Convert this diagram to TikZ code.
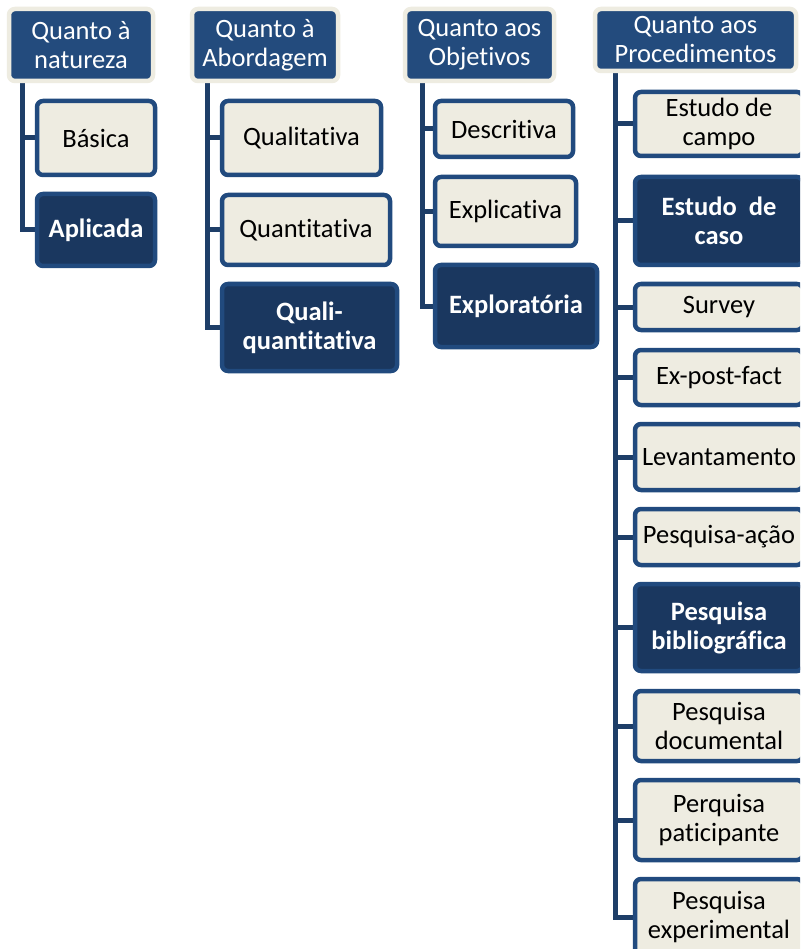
\documentclass[tikz,border=0pt]{standalone}
\usepackage{fontspec}
\setmainfont{Carlito}[Ligatures=CommonOff]
\usetikzlibrary{backgrounds}
\definecolor{hdrfill}{RGB}{35,75,125}
\definecolor{cream}{RGB}{238,236,225}
\definecolor{edge}{RGB}{33,74,126}
\definecolor{darkfill}{RGB}{26,55,95}
\definecolor{linkcol}{RGB}{30,62,104}
\tikzset{
  x=1pt, y=-1pt,
  base/.style={rectangle, rounded corners=6pt, align=center, inner sep=0pt,
    font=\fontsize{26.5}{29}\selectfont},
  header/.style={base, draw=cream, line width=4.5pt, fill=hdrfill, text=white},
  lightbox/.style={base, draw=edge, line width=4.5pt, fill=cream, text=black},
  darkbox/.style={base, draw=edge, line width=4.5pt, fill=darkfill, text=white,
    font=\fontsize{26.5}{29}\selectfont\bfseries},
  conn/.style={draw=linkcol, line width=5pt},
}
\begin{document}
\begin{tikzpicture}
\clip (0,0) rectangle (800,949);

% column 1: natureza
\node[header, minimum width=144pt, minimum height=72pt] (h1) at (81,45) {Quanto à\\natureza};
\node[lightbox, minimum width=118pt, minimum height=74pt] (b11) at (96,138) {Básica};
\node[darkbox, minimum width=118pt, minimum height=72pt] (b12) at (96,230) {Aplicada};

% column 2: abordagem
\node[header, minimum width=146pt, minimum height=72pt] (h2) at (265,45) {Quanto à\\Abordagem};
\node[lightbox, minimum width=159pt, minimum height=74pt] (b21) at (301.5,138) {Qualitativa};
\node[lightbox, minimum width=168pt, minimum height=70pt] (b22) at (306,230) {Quantitativa};
\node[darkbox, minimum width=175pt, minimum height=87pt] (b23) at (309.5,327.5) {Quali-\\quantitativa};

% column 3: objetivos
\node[header, minimum width=149pt, minimum height=72pt] (h3) at (479.5,45) {Quanto aos\\Objetivos};
\node[lightbox, minimum width=138pt, minimum height=56pt] (b31) at (504,129) {Descritiva};
\node[lightbox, minimum width=141pt, minimum height=69pt] (b32) at (505.5,211.5) {Explicativa};
\node[darkbox, minimum width=162pt, minimum height=82pt] (b33) at (516,306) {Exploratória};

% column 4: procedimentos
\node[header, minimum width=201pt, minimum height=62pt] (h4) at (695.5,40) {Quanto aos\\Procedimentos};
\node[lightbox, minimum width=168pt, minimum height=64pt] (b41) at (719,124) {Estudo de\\campo};
\node[darkbox, minimum width=168pt, minimum height=88pt] (b42) at (719,221) {Estudo\ \ de\\caso};
\node[lightbox, minimum width=168pt, minimum height=46pt] (b43) at (719,307) {Survey};
\node[lightbox, minimum width=168pt, minimum height=55pt] (b44) at (719,377.5) {Ex-post-fact};
\node[lightbox, minimum width=168pt, minimum height=66pt] (b45) at (719,457) {Levantamento};
\node[lightbox, minimum width=168pt, minimum height=56pt] (b46) at (719,537) {Pesquisa-ação};
\node[darkbox, minimum width=168pt, minimum height=87pt] (b47) at (719,627.5) {Pesquisa\\bibliográfica};
\node[lightbox, minimum width=168pt, minimum height=70pt] (b48) at (719,726) {Pesquisa\\documental};
\node[lightbox, minimum width=168pt, minimum height=80pt] (b49) at (719,820) {Perquisa\\paticipante};
\node[lightbox, minimum width=168pt, minimum height=76pt] (b410) at (719,917) {Pesquisa\\experimental};

% white page, then spines and branches behind the boxes
\begin{scope}[on background layer]
  \fill[white] (0,0) rectangle (800,949);
  \coordinate (s1) at ([xshift=15.5pt]h1.south west);
  \coordinate (s2) at ([xshift=17.5pt]h2.south west);
  \coordinate (s3) at ([xshift=19.5pt]h3.south west);
  \coordinate (s4) at ([xshift=22.5pt]h4.south west);
  \draw[conn] (s1) |- (b12.west);
  \draw[conn] (b11.west) -- (b11.west -| s1);
  \draw[conn] (s2) |- (b23.west);
  \foreach \n in {b21,b22} \draw[conn] (\n.west) -- (\n.west -| s2);
  \draw[conn] (s3) |- (b33.west);
  \foreach \n in {b31,b32} \draw[conn] (\n.west) -- (\n.west -| s3);
  \draw[conn] (s4) |- (b410.west);
  \foreach \n in {b41,b42,b43,b44,b45,b46,b47,b48,b49} \draw[conn] (\n.west) -- (\n.west -| s4);
\end{scope}
\end{tikzpicture}
\end{document}
